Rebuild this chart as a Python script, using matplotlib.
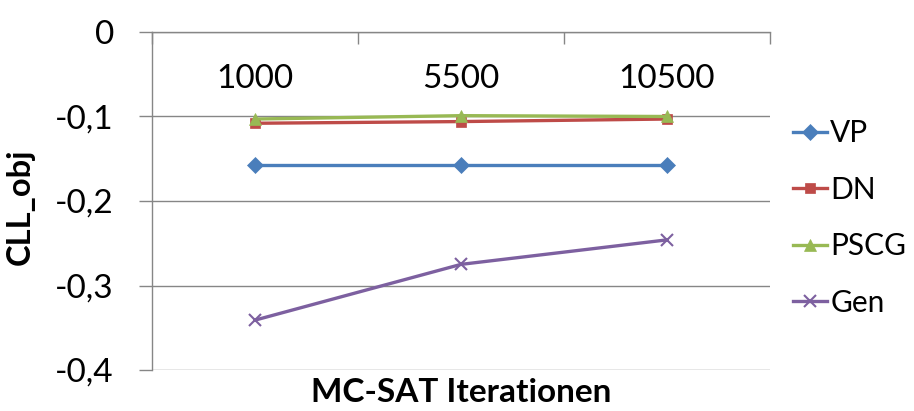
import matplotlib.pyplot as plt
import numpy as np

plt.rcParams["font.family"] = ["Lato", "DejaVu Sans"]

CATEGORIES = ["1000", "5500", "10500"]
VP = [-0.157, -0.157, -0.157]
DN = [-0.108, -0.106, -0.103]
PSCG = [-0.103, -0.099, -0.100]
GEN = [-0.341, -0.275, -0.246]
Y_TICKS = [0, -0.1, -0.2, -0.3, -0.4]

SERIES = [
    ("VP", VP, "#4A7EBB", "D", 8),
    ("DN", DN, "#BE4B48", "s", 7.5),
    ("PSCG", PSCG, "#98B954", "^", 9),
    ("Gen", GEN, "#7D60A0", "x", 8),
]
GRID = "#868686"

fig = plt.figure(figsize=(9.14, 4.11), dpi=100)
ax = fig.add_axes([152 / 914, 41 / 411, 618 / 914, 338 / 411])

x = np.arange(len(CATEGORIES))
for name, vals, color, marker, ms in SERIES:
    ax.plot(x, vals, color=color, lw=2.4, marker=marker, ms=ms,
            mew=1.5 if marker == "x" else 0.5, mec=color, label=name,
            solid_joinstyle="round")

ax.set_xlim(-0.5, len(CATEGORIES) - 0.5)
ax.set_ylim(-0.4, 0)
ax.set_yticks(Y_TICKS)
ax.set_yticklabels([f"{v:g}".replace(".", ",") for v in Y_TICKS])
ax.yaxis.grid(True, color=GRID, lw=1)
ax.set_axisbelow(True)

for s in ["right", "bottom"]:
    ax.spines[s].set_visible(False)
for s in ["left", "top"]:
    ax.spines[s].set_color(GRID)
    ax.spines[s].set_linewidth(1)

ax.tick_params(axis="y", direction="out", length=9.5, color=GRID, width=1,
               labelsize=24, pad=18)
ax.xaxis.tick_top()
ax.set_xticks(np.arange(-0.5, len(CATEGORIES), 1.0))
ax.tick_params(axis="x", direction="in", length=8.5, color=GRID, width=1,
               labeltop=False, labelbottom=False)

for i, lab in enumerate(CATEGORIES):
    ax.text(i, -0.056, lab, ha="center", va="center", fontsize=24)

fig.text(20 / 914, 1 - 207 / 411, "CLL_obj", rotation=90, ha="center",
         va="center", fontsize=23.5, fontweight="bold")
fig.text(461 / 914, 1 - 392 / 411, "MC-SAT Iterationen", ha="center",
         va="center", fontsize=24, fontweight="bold")

ax.legend(loc="center left", bbox_to_anchor=(793 / 914, 1 - 218 / 411),
          bbox_transform=fig.transFigure, frameon=False, fontsize=21.5,
          handlelength=1.15, handletextpad=0.1, labelspacing=0.95,
          borderaxespad=0, borderpad=0)

fig.savefig("out.png", dpi=100)
